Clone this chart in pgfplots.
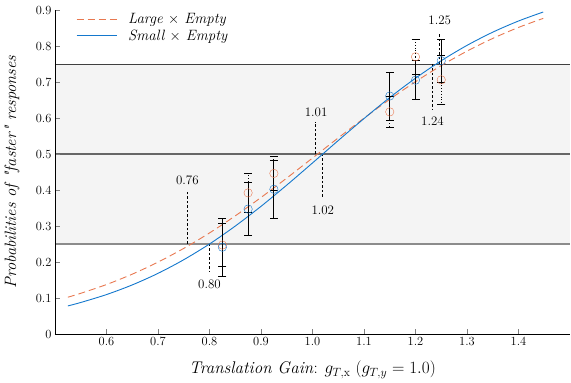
\documentclass[border=0pt]{standalone}
\usepackage{pgfplots}
\pgfplotsset{compat=1.18}
\definecolor{cblue}{RGB}{20,120,205}
\definecolor{corange}{RGB}{232,120,80}
\definecolor{bandgray}{RGB}{244,244,244}
\begin{document}
\begin{tikzpicture}
\begin{axis}[
  scale only axis, width=515bp, height=324bp,
  xmin=0.5, xmax=1.5, ymin=0, ymax=0.9,
  axis x line*=bottom, axis y line*=left,
  axis on top,
  tick align=inside, major tick length=5bp,
  xtick={0.6,0.7,0.8,0.9,1.0,1.1,1.2,1.3,1.4},
  xticklabels={0.6,0.7,0.8,0.9,1.0,1.1,1.2,1.3,1.4},
  ytick={0,0.1,0.2,0.3,0.4,0.5,0.6,0.7,0.8,0.9},
  yticklabels={0,0.1,0.2,0.3,0.4,0.5,0.6,0.7,0.8,0.9},
  ticklabel style={font=\fontsize{12.5}{14}\selectfont},
  /pgf/number format/assume math mode=true,
  xlabel={\textit{Translation Gain}: $g_{T,\mathrm{x}}$ ($g_{T,y}=1.0$)},
  ylabel={\textit{Probabilities of \textquotedbl faster\textquotedbl\ responses}},
  xlabel style={font=\fontsize{17}{19}\selectfont, at={(axis description cs:0.5,-0.111)}, anchor=center},
  ylabel style={font=\fontsize{16.5}{19}\selectfont, at={(axis description cs:-0.0835,0.5)}, anchor=center, rotate=0},
  legend style={at={(axis description cs:0.035,1.0)}, anchor=north west, draw=none, fill=none,
    font=\fontsize{15}{16}\selectfont\itshape, row sep=3bp, nodes={inner ysep=1bp, inner xsep=3bp}},
  legend cell align=left,
  legend image code/.code={\draw[#1] (0bp,0bp) -- (40bp,0bp);},
]
% band
\addplot[draw=none, fill=bandgray, forget plot] coordinates {(0.5,0.25) (1.5,0.25) (1.5,0.75) (0.5,0.75)} -- cycle;
\addplot[black!45, line width=1.5bp, forget plot] coordinates {(0.5,0.25) (1.5,0.25)};
\addplot[black!60, line width=1.2bp, forget plot] coordinates {(0.5,0.5) (1.5,0.5)};
\addplot[black!75, line width=0.9bp, forget plot] coordinates {(0.5,0.75) (1.5,0.75)};
% annotation lines
\addplot[black, line width=0.8bp, dash pattern=on 2.5bp off 2bp, forget plot] coordinates {(0.757,0.25) (0.757,0.40)};
\addplot[black, line width=0.8bp, dash pattern=on 2.5bp off 2bp, forget plot] coordinates {(0.80,0.25) (0.80,0.173)};
\addplot[black, line width=0.8bp, dash pattern=on 2.5bp off 2bp, forget plot] coordinates {(1.005,0.5) (1.005,0.59)};
\addplot[black, line width=0.8bp, dash pattern=on 2.5bp off 2bp, forget plot] coordinates {(1.02,0.5) (1.02,0.377)};
\addplot[black, line width=0.8bp, dash pattern=on 2.5bp off 2bp, forget plot] coordinates {(1.233,0.75) (1.233,0.622)};
\addplot[black, line width=0.8bp, dash pattern=on 2.5bp off 2bp, forget plot] coordinates {(1.247,0.75) (1.247,0.836)};
% curves
\addplot[corange, line width=0.9bp, dash pattern=on 7bp off 4bp, smooth] coordinates {
(0.525,0.1022) (0.55,0.1130) (0.6,0.1374) (0.65,0.1662) (0.7,0.1996) (0.75,0.2378) (0.8,0.2807) (0.85,0.3281) (0.9,0.3792) (0.95,0.4331) (1.0,0.4888) (1.05,0.5447) (1.1,0.5995) (1.15,0.6519) (1.2,0.7008) (1.25,0.7455) (1.3,0.7857) (1.35,0.8210) (1.4,0.8516) (1.448,0.8767)};
\addlegendentry{\kern8bp Large $\times$ Empty}
\addplot[cblue, line width=0.9bp, smooth] coordinates {
(0.525,0.078) (0.55,0.0875) (0.6,0.1095) (0.65,0.1363) (0.7,0.1684) (0.75,0.2063) (0.8,0.25) (0.85,0.2998) (0.9,0.3546) (0.95,0.4136) (1.0,0.4751) (1.05,0.5374) (1.1,0.5984) (1.15,0.6568) (1.2,0.7105) (1.25,0.7591) (1.3,0.8017) (1.35,0.8384) (1.4,0.8694) (1.448,0.8944)};
\addlegendentry{\kern8bp Small $\times$ Empty}
% data with error bars
\addplot[only marks, mark=o, mark size=4.2bp, corange, forget plot,
  error bars/.cd, y dir=both, y explicit,
  error bar style={black, line width=0.8bp, dotted},
  error mark options={black, line width=0.8bp, mark size=4bp, solid, rotate=90}]
  coordinates {
  (0.825,0.247) +- (0,0.060)
  (0.875,0.392) +- (0,0.053)
  (0.925,0.446) +- (0,0.046)
  (1.15,0.617) +- (0,0.044)
  (1.2,0.770) +- (0,0.049)
  (1.25,0.706) +- (0,0.068)};
\addplot[only marks, mark=o, mark size=4.2bp, cblue, forget plot,
  error bars/.cd, y dir=both, y explicit,
  error bar style={black, line width=0.8bp, solid},
  error mark options={black, line width=0.8bp, mark size=4bp, rotate=90}]
  coordinates {
  (0.825,0.241) +- (0,0.080)
  (0.875,0.347) +- (0,0.074)
  (0.925,0.402) +- (0,0.081)
  (1.15,0.661) +- (0,0.067)
  (1.2,0.705) +- (0,0.054)
  (1.25,0.759) +- (0,0.060)};
% annotation labels
\node[font=\fontsize{13}{14}\selectfont] at (axis cs:0.757,0.428) {0.76};
\node[font=\fontsize{13}{14}\selectfont] at (axis cs:0.80,0.139) {0.80};
\node[font=\fontsize{13}{14}\selectfont] at (axis cs:1.007,0.617) {1.01};
\node[font=\fontsize{13}{14}\selectfont] at (axis cs:1.02,0.344) {1.02};
\node[font=\fontsize{13}{14}\selectfont] at (axis cs:1.233,0.59) {1.24};
\node[font=\fontsize{13}{14}\selectfont] at (axis cs:1.247,0.872) {1.25};
\end{axis}
\pgfresetboundingbox
\path ([xshift=-55bp,yshift=-49bp]current axis.south west) rectangle ([xshift=1bp,yshift=10bp]current axis.north east);
\end{tikzpicture}
\end{document}
